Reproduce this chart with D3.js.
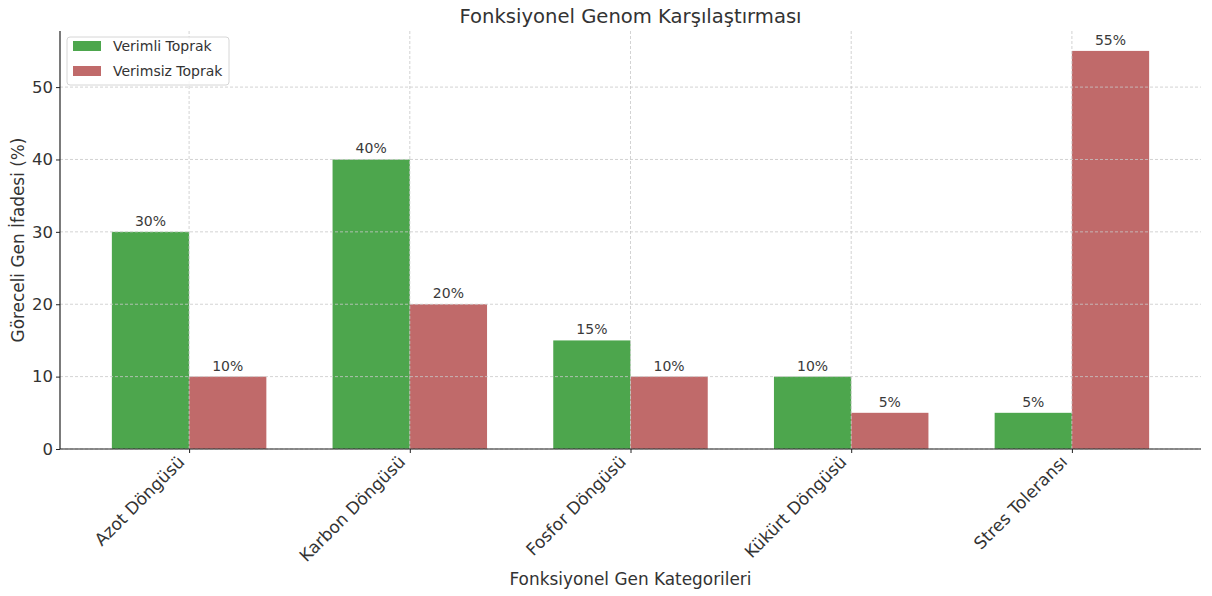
<!DOCTYPE html>
<html>
<head>
<meta charset="utf-8">
<script src="https://cdn.jsdelivr.net/npm/d3@7"></script>
<style>
  body { margin: 0; background: #fff; }
  svg { font-family: "DejaVu Sans", sans-serif; }
</style>
</head>
<body>
<div id="chart-area"></div>
<script>
// data
const categories = ["Azot Döngüsü", "Karbon Döngüsü", "Fosfor Döngüsü", "Kükürt Döngüsü", "Stres Toleransı"];
const verimli = [30, 40, 15, 10, 5];
const verimsiz = [10, 20, 10, 5, 55];
const seriesNames = ["Verimli Toprak", "Verimsiz Toprak"];
const yTicks = [0, 10, 20, 30, 40, 50];

const width = 1212, height = 596;
const mLeft = 60, mRight = 1201, mTop = 31, mBottom = 449;
const barW = 0.35;
const green = "#4da64d", red = "#c06a6a";

const svg = d3.select("#chart-area").append("svg")
    .attr("width", width)
    .attr("height", height);

// matplotlib-like limits with 5% margins
const xMin = -barW, xMax = categories.length - 1 + barW;
const pad = (xMax - xMin) * 0.05;
const x = d3.scaleLinear()
    .domain([xMin - pad, xMax + pad])
    .range([mLeft, mRight]);

const yMax = d3.max(verimli.concat(verimsiz)) * 1.05;
const y = d3.scaleLinear()
    .domain([0, yMax])
    .range([mBottom, mTop]);

// bars
svg.selectAll("rect.g").data(verimli).enter().append("rect")
    .attr("class", "g")
    .attr("x", (d, i) => x(i - barW))
    .attr("y", d => y(d))
    .attr("width", x(barW) - x(0))
    .attr("height", d => y(0) - y(d))
    .attr("fill", green);

svg.selectAll("rect.r").data(verimsiz).enter().append("rect")
    .attr("class", "r")
    .attr("x", (d, i) => x(i))
    .attr("y", d => y(d))
    .attr("width", x(barW) - x(0))
    .attr("height", d => y(0) - y(d))
    .attr("fill", red);

// grid (drawn above bars like matplotlib)
const grid = svg.append("g").attr("stroke", "#c8c8c8").attr("stroke-width", 0.8)
    .attr("stroke-dasharray", "3,2");
grid.selectAll("line.h").data(yTicks).enter().append("line")
    .attr("x1", mLeft).attr("x2", mRight)
    .attr("y1", d => y(d)).attr("y2", d => y(d));
grid.selectAll("line.v").data(categories).enter().append("line")
    .attr("x1", (d, i) => x(i)).attr("x2", (d, i) => x(i))
    .attr("y1", mTop).attr("y2", mBottom);

// bar value labels
const labels = svg.append("g").attr("font-size", 14).attr("fill", "#3a3a3a").attr("text-anchor", "middle");
labels.selectAll("text.g").data(verimli).enter().append("text")
    .attr("x", (d, i) => x(i - barW / 2))
    .attr("y", d => y(d) - 6)
    .text(d => d + "%");
labels.selectAll("text.r").data(verimsiz).enter().append("text")
    .attr("x", (d, i) => x(i + barW / 2))
    .attr("y", d => y(d) - 6)
    .text(d => d + "%");

// axes
const yAxis = svg.append("g")
    .attr("transform", "translate(" + mLeft + ",0)")
    .call(d3.axisLeft(y).tickValues(yTicks).tickSize(4).tickPadding(3));
yAxis.select(".domain").attr("d", "M0," + mTop + "V" + mBottom).attr("stroke", "#222").attr("stroke-width", 1.2);
yAxis.selectAll(".tick line").attr("stroke", "#222");
yAxis.selectAll(".tick text").attr("font-size", 16.5).attr("fill", "#333").attr("font-family", "DejaVu Sans");

const xAxis = svg.append("g")
    .attr("transform", "translate(0," + mBottom + ")")
    .call(d3.axisBottom(x).tickValues(d3.range(categories.length)).tickFormat(i => categories[i]).tickSize(4));
xAxis.select(".domain").attr("d", "M" + mLeft + ",0H" + mRight).attr("stroke", "#222").attr("stroke-width", 1.2);
xAxis.selectAll(".tick line").attr("stroke", "#222");
xAxis.selectAll(".tick text")
    .attr("font-size", 17).attr("fill", "#333").attr("font-family", "DejaVu Sans")
    .attr("text-anchor", "end")
    .attr("dy", null)
    .attr("y", 0).attr("x", 0)
    .attr("transform", "translate(-4,14) rotate(-45)");

// titles
svg.append("text")
    .attr("x", (mLeft + mRight) / 2).attr("y", 23)
    .attr("text-anchor", "middle").attr("font-size", 19.6).attr("fill", "#333")
    .text("Fonksiyonel Genom Karşılaştırması");

svg.append("text")
    .attr("x", (mLeft + mRight) / 2).attr("y", 585)
    .attr("text-anchor", "middle").attr("font-size", 16.9).attr("fill", "#333")
    .text("Fonksiyonel Gen Kategorileri");

svg.append("text")
    .attr("transform", "translate(24," + (mTop + mBottom) / 2 + ") rotate(-90)")
    .attr("text-anchor", "middle").attr("font-size", 16.9).attr("fill", "#333")
    .text("Göreceli Gen İfadesi (%)");

// legend
const legend = svg.append("g").attr("transform", "translate(67,37)");
legend.append("rect")
    .attr("width", 162).attr("height", 48).attr("rx", 3)
    .attr("fill", "#fff").attr("fill-opacity", 0.8)
    .attr("stroke", "#d6d6d6");
legend.selectAll("rect.key").data(seriesNames).enter().append("rect")
    .attr("class", "key")
    .attr("x", 6).attr("y", (d, i) => 4 + i * 25)
    .attr("width", 28).attr("height", 10)
    .attr("fill", (d, i) => i === 0 ? green : red);
legend.selectAll("text").data(seriesNames).enter().append("text")
    .attr("x", 46).attr("y", (d, i) => 14 + i * 25)
    .attr("font-size", 14).attr("fill", "#333")
    .text(d => d);
</script>
</body>
</html>
